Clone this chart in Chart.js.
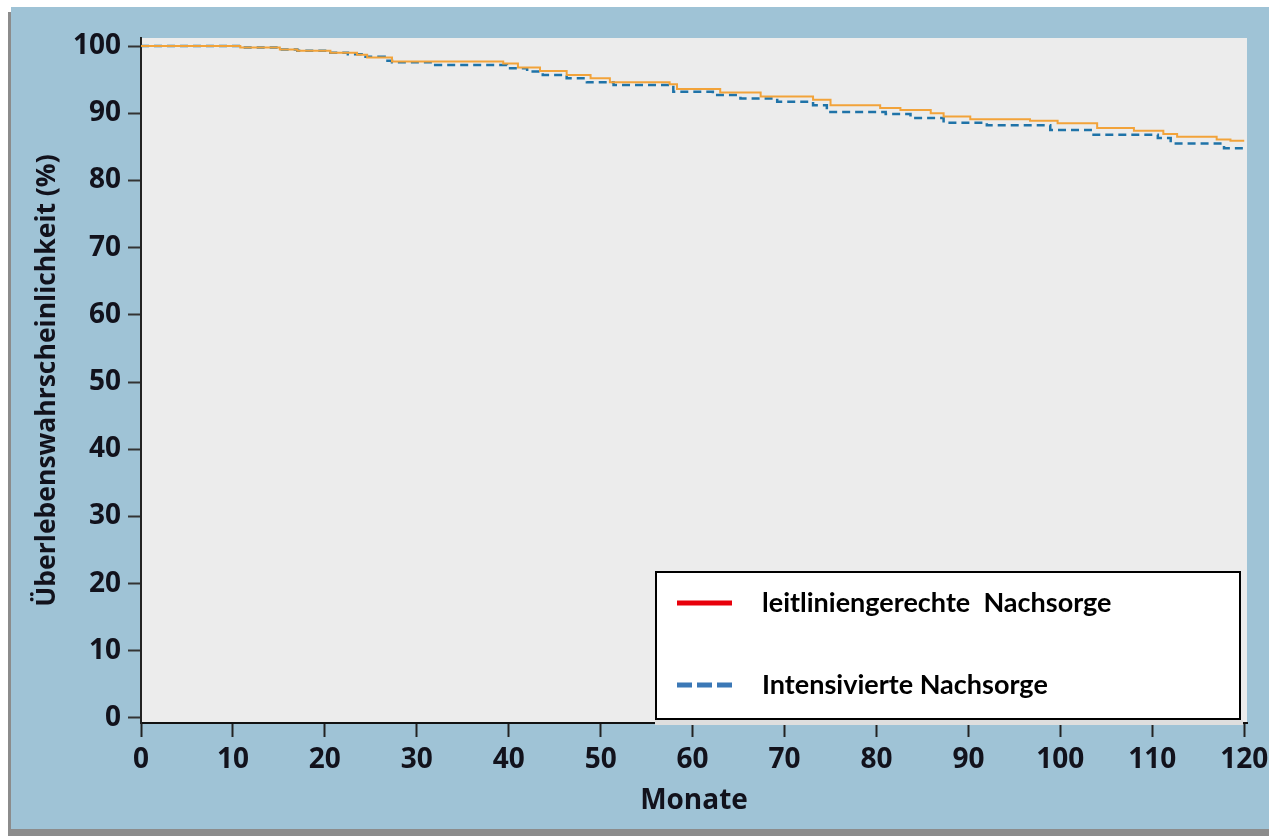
<!DOCTYPE html>
<html>
<head>
<meta charset="utf-8">
<script src="https://cdn.jsdelivr.net/npm/chart.js@4.4.1/dist/chart.umd.min.js"></script>
<style>
  html, body { margin: 0; padding: 0; background: #fff; }
  #wrap { width: 1269px; height: 836px; position: relative; }
</style>
</head>
<body>
<div id="wrap"><canvas id="survivalChart"></canvas></div>
<script>
// Kaplan-Meier Stufen: Zeitpunkt des Abfalls (Monate) und Wert danach (%)
const monthsLeitlinie = [0, 10.8, 15.1, 17, 20.6, 23.5, 24.6, 27.3, 39.4, 41, 43.4, 46.3, 48.9, 51, 57.5, 58.3, 63, 67.4, 73.1, 75, 80.4, 82.6, 85.9, 87.3, 90.2, 96.7, 99.7, 104, 108, 111.2, 112.7, 117, 118.5, 120];
const survivalLeitlinie = [100, 99.8, 99.5, 99.3, 99.0, 98.7, 98.3, 97.7, 97.4, 96.8, 96.3, 95.7, 95.2, 94.6, 94.3, 93.6, 93.1, 92.5, 92.0, 91.2, 90.8, 90.5, 90.0, 89.5, 89.1, 88.9, 88.5, 87.8, 87.4, 86.9, 86.5, 86.1, 85.9, 85.9];

const monthsIntensiv = [0, 10.8, 15.1, 17, 20.6, 22.5, 24, 26.5, 27.3, 32, 39.8, 42, 43.7, 46.3, 48.5, 51.4, 57.9, 62.2, 65.2, 69.2, 73.1, 74.6, 81, 83.7, 87.3, 92, 98.9, 103.3, 110.6, 112, 117.8, 120];
const survivalIntensiv = [100, 99.8, 99.5, 99.3, 99.0, 98.8, 98.4, 97.8, 97.6, 97.2, 96.7, 96.2, 95.7, 95.2, 94.6, 94.2, 93.2, 92.7, 92.2, 91.7, 91.2, 90.2, 89.9, 89.3, 88.6, 88.2, 87.5, 86.8, 86.3, 85.5, 84.8, 84.8];

const seriesLabels = ['leitliniengerechte  Nachsorge', 'Intensivierte Nachsorge'];
const xTitle = 'Monate';
const yTitle = 'Überlebenswahrscheinlichkeit (%)';

const textColor = '#12121c';
const tickFont = { family: 'Open Sans', weight: 'bold', size: 28 };

function toPoints(xs, ys) {
    return xs.map((x, i) => ({ x: x, y: ys[i] }));
}

// Hintergrund: blaues Panel mit Schatten, graue Plotfläche
const backgroundPlugin = {
    id: 'panelBackground',
    beforeDraw(chart) {
        const ctx = chart.ctx;
        const a = chart.chartArea;
        ctx.save();
        ctx.fillStyle = '#ffffff';
        ctx.fillRect(0, 0, chart.width, chart.height);
        ctx.fillStyle = '#8c8c8c';
        ctx.fillRect(8, 12, chart.width - 8, chart.height - 12);
        ctx.fillStyle = '#9fc3d6';
        ctx.fillRect(11, 7, chart.width - 11, chart.height - 14);
        ctx.fillStyle = '#ececec';
        ctx.fillRect(a.left, a.top, a.right - a.left, a.bottom - a.top);
        ctx.restore();
    }
};

// Legende als Kasten unten rechts in der Plotfläche
const legendBoxPlugin = {
    id: 'legendBox',
    afterDraw(chart) {
        const ctx = chart.ctx;
        const a = chart.chartArea;
        const right = a.right - 6, bottom = a.bottom - 3;
        const left = right - 586, top = bottom - 149;
        ctx.save();
        ctx.fillStyle = '#dedede';
        ctx.fillRect(left, bottom, right - left + 2, 5);
        ctx.fillStyle = '#ffffff';
        ctx.fillRect(left, top, right - left, bottom - top);
        ctx.lineWidth = 2;
        ctx.strokeStyle = '#000';
        ctx.strokeRect(left + 1, top + 1, right - left - 2, bottom - top - 2);

        const rows = [
            { y: top + 32, color: '#e8000b', dash: [] },
            { y: top + 114, color: '#3b78b6', dash: [15, 5] }
        ];
        rows.forEach((r, i) => {
            ctx.beginPath();
            ctx.setLineDash(r.dash);
            ctx.lineWidth = 5;
            ctx.strokeStyle = r.color;
            ctx.moveTo(left + 22, r.y);
            ctx.lineTo(left + 77, r.y);
            ctx.stroke();
            ctx.setLineDash([]);
            ctx.fillStyle = '#000';
            ctx.font = 'bold 27px Lato';
            ctx.textBaseline = 'middle';
            ctx.fillText(seriesLabels[i], left + 107, r.y);
        });
        ctx.restore();
    }
};

const ctx = document.getElementById('survivalChart').getContext('2d');
new Chart(ctx, {
    type: 'line',
    data: {
        datasets: [
            {
                label: seriesLabels[0],
                data: toPoints(monthsLeitlinie, survivalLeitlinie),
                borderColor: '#f2a33a',
                borderWidth: 2,
                stepped: true,
                pointRadius: 0,
                fill: false
            },
            {
                label: seriesLabels[1],
                data: toPoints(monthsIntensiv, survivalIntensiv),
                borderColor: '#1f73a8',
                borderWidth: 2.5,
                borderDash: [8, 5],
                stepped: true,
                pointRadius: 0,
                fill: false
            }
        ]
    },
    options: {
        responsive: true,
        maintainAspectRatio: false,
        animation: false,
        layout: { padding: { left: 0, top: 38, right: 22, bottom: 0 } },
        plugins: {
            legend: { display: false },
            tooltip: { enabled: false }
        },
        scales: {
            x: {
                type: 'linear',
                min: 0,
                max: 120.3,
                ticks: {
                    stepSize: 10,
                    includeBounds: false,
                    autoSkip: false,
                    maxRotation: 0,
                    padding: 6,
                    color: textColor,
                    font: tickFont
                },
                grid: { drawOnChartArea: false, tickLength: 14, tickColor: '#222', tickWidth: 2 },
                border: { color: '#111', width: 2 },
                title: {
                    display: true,
                    text: xTitle,
                    color: textColor,
                    font: { family: 'Open Sans', weight: 'bold', size: 28 },
                    padding: { top: 0, bottom: 18 }
                },
                afterFit(scale) {
                    scale.height = 113;
                    scale.paddingLeft = 0;
                    scale.paddingRight = 0;
                }
            },
            y: {
                min: -0.75,
                max: 101.2,
                ticks: {
                    stepSize: 10,
                    includeBounds: false,
                    padding: 7,
                    color: textColor,
                    font: tickFont
                },
                grid: { drawOnChartArea: false, tickLength: 13, tickColor: '#333', tickWidth: 2 },
                border: { color: '#222', width: 2 },
                title: {
                    display: true,
                    text: yTitle,
                    color: textColor,
                    font: { family: 'Open Sans', weight: 'bold', size: 26.5 },
                    padding: { top: 32, bottom: 0 }
                },
                afterFit(scale) {
                    scale.width = 141;
                    scale.paddingTop = 0;
                    scale.paddingBottom = 0;
                }
            }
        }
    },
    plugins: [backgroundPlugin, legendBoxPlugin]
});
</script>
</body>
</html>
